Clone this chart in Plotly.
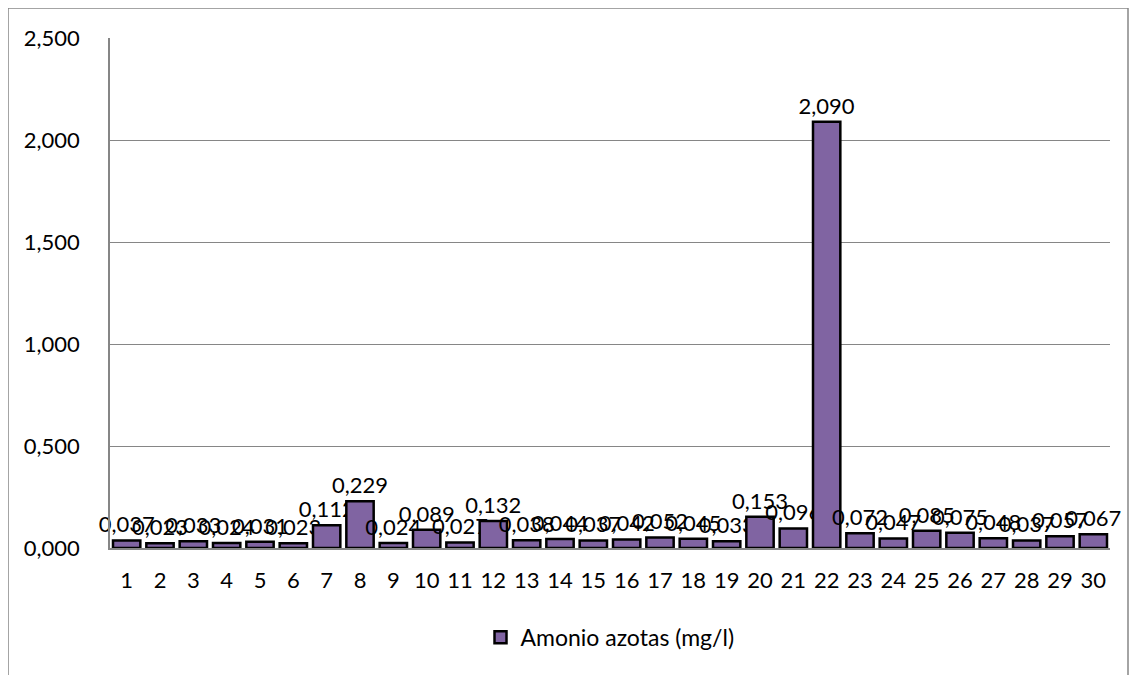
import plotly.graph_objects as go

categories = [str(i) for i in range(1, 31)]
values = [0.037, 0.023, 0.033, 0.024, 0.031, 0.023, 0.112, 0.229, 0.024, 0.089,
          0.027, 0.132, 0.038, 0.044, 0.037, 0.042, 0.052, 0.045, 0.033, 0.153,
          0.096, 2.090, 0.072, 0.047, 0.085, 0.075, 0.048, 0.037, 0.057, 0.067]
series_name = "Amonio azotas (mg/l)"
y_ticks = [0, 0.5, 1.0, 1.5, 2.0, 2.5]

FS = 22
fig = go.Figure()
fig.add_trace(go.Bar(
    x=categories, y=values, name=series_name,
    marker=dict(color="#8064A2", line=dict(color="#000000", width=2.5)),
    width=0.82,
    texttemplate="%{y:.3f}", textposition="outside", constraintext="none",
    textfont=dict(color="#000000", size=FS, family="Lato"),
    cliponaxis=False,
))

W, H = 1000, 510
L, T = 102, 30
fig.update_layout(
    width=1138, height=675,
    margin=dict(l=L, r=36, t=T, b=135),
    paper_bgcolor="white", plot_bgcolor="white",
    separators=", ",
    font=dict(family="Lato", size=FS, color="#000000"),
    showlegend=True,
    legend=dict(orientation="h", x=0.5, xanchor="center", y=-0.175, yanchor="middle",
                font=dict(size=23)),
    xaxis=dict(showline=True, linecolor="#868686", linewidth=2, ticks="",
               ticklabelstandoff=12, tickfont=dict(size=FS)),
    yaxis=dict(range=[0, 2.5], tickvals=y_ticks, tickformat=".3f",
               showgrid=True, gridcolor="#868686", gridwidth=1,
               showline=True, linecolor="#868686", linewidth=1.5,
               zeroline=False, ticks="", ticklabelstandoff=24,
               tickfont=dict(size=FS)),
)
fig.add_shape(type="rect", xref="paper", yref="paper",
              x0=(0 - L) / W, x1=(1120 - L) / W,
              y0=(540 - 700) / H, y1=(540 - 0) / H,
              line=dict(color="#868686", width=1.5), fillcolor="rgba(0,0,0,0)", layer="below")
fig.write_html("out.html")
